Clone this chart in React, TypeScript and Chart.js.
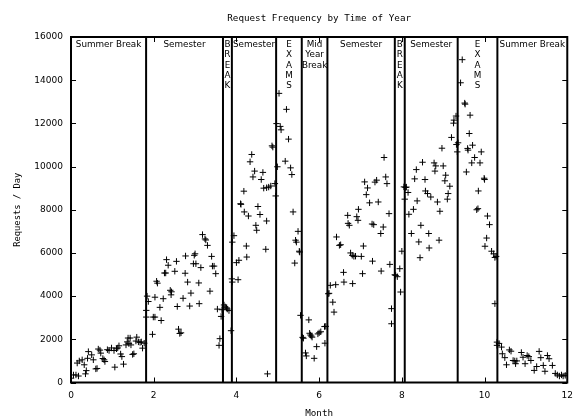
import React, { useEffect, useRef } from 'react';
import { Chart, registerables } from 'chart.js';

Chart.register(...registerables);

const chartTitle = 'Request Frequency by Time of Year';
const xAxisTitle = 'Month';
const yAxisTitle = 'Requests / Day';

const xTickValues = [0, 2, 4, 6, 8, 10, 12];
const yTickValues = [0, 2000, 4000, 6000, 8000, 10000, 12000, 14000, 16000];

// Period boundaries (months) and their labels
const periodBounds = [1.816, 3.675, 3.89, 4.96, 5.58, 6.2, 7.83, 8.07, 9.35, 10.31];
const periodLabels: string[][] = [
  ['Summer Break'],
  ['Semester'],
  ['B', 'R', 'E', 'A', 'K'],
  ['Semester'],
  ['E', 'X', 'A', 'M', 'S'],
  ['Mid', 'Year', 'Break'],
  ['Semester'],
  ['B', 'R', 'E', 'A', 'K'],
  ['Semester'],
  ['E', 'X', 'A', 'M', 'S'],
  ['Summer Break'],
];

// [month, requests per day]
const summerBreak1 = [
  [0.0, 200], [0.06, 350], [0.12, 350], [0.18, 300], [0.15, 900], [0.2, 1000], [0.27, 1050],
  [0.32, 820], [0.35, 400], [0.37, 550], [0.4, 1120], [0.42, 1430], [0.5, 1280], [0.54, 1050],
  [0.6, 630], [0.63, 650], [0.66, 1550], [0.7, 1500], [0.72, 1360], [0.77, 1110], [0.8, 1050],
  [0.82, 970], [0.88, 1520], [0.92, 1480], [0.98, 1600], [1.04, 1480], [1.06, 710], [1.1, 1560],
  [1.13, 1600], [1.16, 1700], [1.2, 1320], [1.23, 1200], [1.27, 850], [1.33, 1740], [1.36, 1880],
  [1.38, 2060], [1.4, 1800], [1.43, 2060], [1.45, 1740], [1.49, 1300], [1.52, 1330], [1.57, 1920],
  [1.59, 2100], [1.63, 1880], [1.67, 1860], [1.7, 1880], [1.73, 1590], [1.77, 1820],
];
const semester1 = [
  [1.82, 3340], [1.82, 3030], [1.84, 4000], [1.87, 3750], [1.97, 2230], [1.99, 3030], [2.03, 3030],
  [2.03, 3950], [2.07, 4690], [2.09, 4600], [2.15, 3480], [2.18, 2870], [2.23, 3880], [2.26, 5070],
  [2.29, 5070], [2.31, 5690], [2.35, 5430], [2.4, 4270], [2.42, 4060], [2.43, 4200], [2.51, 5150],
  [2.55, 5610], [2.57, 3520], [2.6, 2470], [2.63, 2270], [2.66, 2300], [2.71, 3900], [2.76, 5060],
  [2.77, 5860], [2.82, 4650], [2.87, 3540], [2.9, 4140], [2.96, 5500], [2.98, 5890], [3.0, 5960],
  [3.02, 5500], [3.09, 4610], [3.1, 3650], [3.14, 5320], [3.18, 6850], [3.24, 6650], [3.26, 6600],
  [3.3, 6350], [3.36, 4230], [3.4, 5840], [3.42, 5390], [3.46, 5390], [3.5, 5040], [3.54, 3400],
  [3.58, 1720], [3.6, 2030], [3.63, 3060], [3.65, 3370],
];
const break1 = [
  [3.7, 3590], [3.73, 3500], [3.76, 3450], [3.78, 3400], [3.82, 3330], [3.87, 2400],
];
const semester2 = [
  [3.89, 4800], [3.9, 4650], [3.9, 6500], [3.94, 6800], [4.0, 5550], [4.04, 4760], [4.06, 5660],
  [4.1, 8280], [4.11, 8250], [4.18, 8860], [4.19, 7900], [4.24, 6320], [4.25, 5810], [4.29, 7710],
  [4.33, 10220], [4.37, 10560], [4.4, 9520], [4.44, 9790], [4.47, 7280], [4.49, 7050], [4.52, 8150],
  [4.57, 7780], [4.6, 9400], [4.64, 9730], [4.66, 9000], [4.71, 6170], [4.73, 7480], [4.73, 9020],
  [4.75, 400], [4.78, 9050], [4.83, 9100], [4.86, 10960], [4.88, 10900], [4.93, 9210], [4.95, 8640],
];
const exams1 = [
  [4.97, 11990], [4.99, 9990], [5.03, 13390], [5.06, 11860], [5.08, 11700], [5.18, 10250],
  [5.21, 12650], [5.26, 11270], [5.31, 9940], [5.34, 9630], [5.37, 7900], [5.41, 5530],
  [5.43, 6590], [5.45, 6500], [5.49, 7000], [5.52, 6080], [5.53, 6040], [5.55, 3110],
];
const midYearBreak = [
  [5.6, 2090], [5.62, 2050], [5.67, 1370], [5.69, 1230], [5.75, 2900], [5.77, 2280], [5.79, 2200],
  [5.81, 2150], [5.83, 2100], [5.88, 1120], [5.94, 1660], [5.97, 2250], [6.0, 2300], [6.04, 2350],
  [6.13, 2590], [6.14, 1820], [6.16, 2600],
];
const semester3 = [
  [6.22, 4110], [6.24, 4130], [6.27, 4500], [6.33, 3720], [6.36, 3260], [6.4, 4530], [6.42, 6740],
  [6.49, 6350], [6.52, 6380], [6.59, 5100], [6.6, 4650], [6.69, 7740], [6.7, 7370], [6.73, 7280],
  [6.76, 6000], [6.8, 5890], [6.81, 4580], [6.84, 5840], [6.88, 5850], [6.91, 7680], [6.94, 7510],
  [6.95, 8020], [7.02, 5840], [7.05, 5040], [7.07, 6320], [7.1, 9290], [7.14, 8700], [7.17, 9010],
  [7.22, 8320], [7.28, 7340], [7.29, 5620], [7.32, 7310], [7.35, 9280], [7.39, 9370], [7.43, 8360],
  [7.49, 6900], [7.5, 5160], [7.55, 7200], [7.57, 10420], [7.61, 9520], [7.64, 9210], [7.69, 7820],
  [7.71, 5470], [7.75, 3420], [7.75, 2720],
];
const break2 = [
  [7.83, 4990], [7.85, 4960], [7.89, 4900], [7.95, 5270], [7.97, 4190], [8.0, 6080], [8.05, 9060],
];
const semester4 = [
  [8.07, 8490], [8.09, 9030], [8.11, 9050], [8.15, 8800], [8.17, 7790], [8.23, 6900], [8.28, 8020],
  [8.31, 9430], [8.35, 9860], [8.37, 8410], [8.41, 6510], [8.44, 5780], [8.46, 7280], [8.5, 10200],
  [8.56, 9400], [8.57, 8870], [8.62, 8750], [8.65, 6900], [8.66, 6230], [8.7, 8590], [8.78, 10170],
  [8.8, 9790], [8.82, 10030], [8.86, 8360], [8.9, 6590], [8.92, 7930], [8.97, 10850], [9.0, 10030],
  [9.04, 9340], [9.06, 9600], [9.1, 8490], [9.12, 8750], [9.16, 9090], [9.2, 11350], [9.25, 12010],
  [9.26, 12150], [9.31, 12340], [9.32, 11020], [9.34, 10680],
];
const exams2 = [
  [9.36, 11100], [9.42, 13880], [9.46, 14950], [9.52, 12940], [9.53, 12890], [9.56, 9750],
  [9.59, 10840], [9.6, 10760], [9.63, 11530], [9.65, 12380], [9.69, 10170], [9.71, 10990],
  [9.76, 10420], [9.81, 8000], [9.84, 8050], [9.85, 8870], [9.89, 10170], [9.92, 10680],
  [9.99, 9460], [10.0, 9400], [10.01, 6310], [10.05, 6690], [10.07, 7710], [10.12, 7310],
  [10.17, 6080], [10.22, 5960], [10.25, 5790], [10.25, 3650], [10.28, 5840], [10.3, 1720], [10.3, 1870],
];
const summerBreak2 = [
  [10.35, 1810], [10.41, 1640], [10.43, 1330], [10.49, 1150], [10.53, 820], [10.6, 1510],
  [10.64, 1450], [10.69, 1020], [10.73, 1000], [10.75, 870], [10.78, 1000], [10.89, 1390],
  [10.93, 1170], [10.98, 870], [11.03, 1250], [11.07, 1200], [11.12, 1020], [11.2, 560],
  [11.26, 740], [11.32, 1440], [11.36, 1150], [11.42, 790], [11.46, 520], [11.52, 1250],
  [11.56, 1100], [11.64, 790], [11.71, 420], [11.76, 350], [11.81, 300], [11.86, 350],
  [11.9, 300], [11.95, 330], [12.0, 400],
];

const allPeriods = [
  summerBreak1, semester1, break1, semester2, exams1, midYearBreak,
  semester3, break2, semester4, exams2, summerBreak2,
];

const monoFont = '"DejaVu Sans Mono", monospace';
const sansFont = '"DejaVu Sans", sans-serif';

const overlayPlugin = {
  id: 'overlay',
  beforeDatasetsDraw(chart: any) {
    const { ctx, chartArea: a, scales } = chart;
    const x = scales.x;
    ctx.save();
    ctx.strokeStyle = '#000';
    ctx.lineWidth = 2;
    for (const b of periodBounds) {
      const px = x.getPixelForValue(b);
      ctx.beginPath();
      ctx.moveTo(px, a.top);
      ctx.lineTo(px, a.bottom);
      ctx.stroke();
    }
    ctx.restore();
  },
  afterDraw(chart: any) {
    const { ctx, chartArea: a, scales } = chart;
    const x = scales.x;
    const y = scales.y;
    ctx.save();
    // frame
    ctx.strokeStyle = '#000';
    ctx.lineWidth = 2;
    ctx.strokeRect(a.left, a.top, a.right - a.left, a.bottom - a.top);
    // inward ticks
    ctx.lineWidth = 1;
    const tl = 5;
    ctx.beginPath();
    for (const t of xTickValues) {
      const px = Math.round(x.getPixelForValue(t)) + 0.5;
      ctx.moveTo(px, a.bottom);
      ctx.lineTo(px, a.bottom - tl);
      ctx.moveTo(px, a.top);
      ctx.lineTo(px, a.top + tl);
    }
    for (const t of yTickValues) {
      const py = Math.round(y.getPixelForValue(t)) + 0.5;
      ctx.moveTo(a.left, py);
      ctx.lineTo(a.left + tl, py);
      ctx.moveTo(a.right, py);
      ctx.lineTo(a.right - tl, py);
    }
    ctx.stroke();

    // period labels
    ctx.fillStyle = '#000';
    ctx.textAlign = 'center';
    ctx.textBaseline = 'middle';
    ctx.font = `8.8px ${sansFont}`;
    const starts = [0, ...periodBounds];
    const ends = [...periodBounds, 12];
    periodLabels.forEach((lines, i) => {
      const cx = (x.getPixelForValue(starts[i]) + x.getPixelForValue(ends[i])) / 2;
      lines.forEach((line, j) => {
        ctx.fillText(line, cx, a.top + 8 + j * 10.2);
      });
    });

    // chart title
    ctx.font = `9.25px ${monoFont}`;
    ctx.fillText(chartTitle, (a.left + a.right) / 2, 19);
    // x axis title
    ctx.fillText(xAxisTitle, (a.left + a.right) / 2, 414);
    // y axis title
    ctx.save();
    ctx.translate(18, (a.top + a.bottom) / 2);
    ctx.rotate(-Math.PI / 2);
    ctx.font = `8.8px ${monoFont}`;
    ctx.fillText(yAxisTitle, 0, 0);
    ctx.restore();
    ctx.restore();
  },
};

export default function App() {
  const canvasRef = useRef<HTMLCanvasElement | null>(null);

  useEffect(() => {
    if (!canvasRef.current) return;
    const points = allPeriods.flat().map(([m, r]) => ({ x: m, y: r }));
    const chart = new Chart(canvasRef.current, {
      type: 'scatter',
      data: {
        datasets: [
          {
            label: 'Requests',
            data: points,
            pointStyle: 'cross',
            pointRadius: 3.2,
            borderColor: '#000',
            backgroundColor: '#000',
            borderWidth: 1,
          },
        ],
      },
      options: {
        animation: false,
        responsive: true,
        maintainAspectRatio: false,
        events: [],
        layout: { padding: { top: 37, right: 6, left: 0, bottom: 0 } },
        plugins: {
          legend: { display: false },
          tooltip: { enabled: false },
          title: { display: false },
        },
        scales: {
          x: {
            type: 'linear',
            min: 0,
            max: 12,
            afterFit: (s: any) => { s.height = 33.5; },
            afterBuildTicks: (s: any) => { s.ticks = xTickValues.map((v) => ({ value: v })); },
            grid: { display: false, drawTicks: false },
            border: { display: false },
            ticks: { color: '#000', font: { family: sansFont, size: 9 }, padding: 8, maxRotation: 0 },
          },
          y: {
            type: 'linear',
            min: 0,
            max: 16000,
            afterFit: (s: any) => { s.width = 71; },
            afterBuildTicks: (s: any) => { s.ticks = yTickValues.map((v) => ({ value: v })); },
            grid: { display: false, drawTicks: false },
            border: { display: false },
            ticks: {
              color: '#000',
              font: { family: sansFont, size: 9 },
              padding: 8,
              callback: (v: any) => String(v),
            },
          },
        },
      },
      plugins: [overlayPlugin],
    });
    return () => chart.destroy();
  }, []);

  return (
    <div style={{ position: 'fixed', left: 0, top: 0, width: 581, height: 416, background: '#fff' }}>
      <canvas ref={canvasRef} />
    </div>
  );
}
